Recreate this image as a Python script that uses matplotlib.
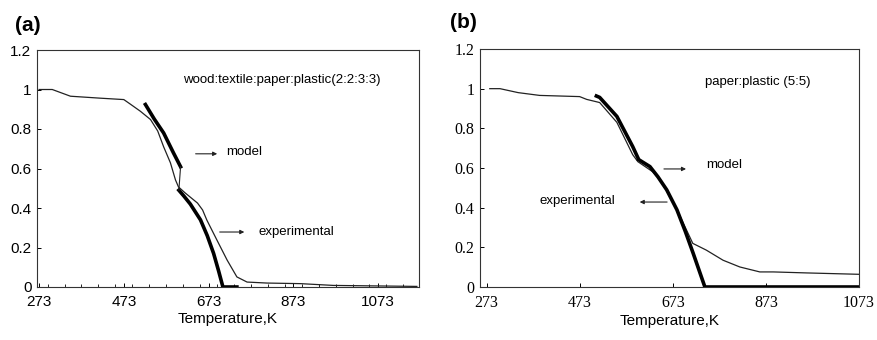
import matplotlib
matplotlib.use("Agg")
import matplotlib.pyplot as plt

plt.rcParams['font.family'] = ['Liberation Sans', 'DejaVu Sans']

# Panel (a): wood:textile:paper:plastic(2:2:3:3)
a_exp_T = [273, 304, 347, 418, 473, 489, 512, 536, 553, 567, 583, 595, 602, 618, 647, 659,
           669, 693, 717, 740, 764, 811, 890, 968, 1165]
a_exp_y = [1.0, 1.0, 0.966, 0.956, 0.949, 0.925, 0.89, 0.848, 0.79, 0.71, 0.629, 0.542, 0.507,
           0.476, 0.425, 0.39, 0.339, 0.237, 0.136, 0.051, 0.025, 0.02, 0.017, 0.008, 0.003]
a_mod1_T = [524, 545, 567, 590, 607]
a_mod1_y = [0.924, 0.85, 0.78, 0.68, 0.609]
a_mod2_T = [603, 615, 630, 654, 670, 685, 697, 707, 720, 740]
a_mod2_y = [0.49, 0.46, 0.42, 0.34, 0.26, 0.17, 0.08, 0.0, 0.0, 0.0]

# Panel (b): paper:plastic (5:5)
b_exp_T = [280, 302, 341, 387, 473, 488, 516, 553, 587, 598, 630, 645, 659, 681, 702, 716,
           745, 781, 817, 860, 889, 960, 1073]
b_exp_y = [1.0, 1.0, 0.98, 0.966, 0.96, 0.946, 0.93, 0.83, 0.667, 0.632, 0.581, 0.54, 0.49,
           0.395, 0.29, 0.22, 0.186, 0.135, 0.101, 0.076, 0.076, 0.071, 0.064]
b_mod1_T = [509, 516, 553, 587, 598]
b_mod1_y = [0.963, 0.956, 0.86, 0.708, 0.652]
b_mod2_T = [600, 624, 641, 660, 682, 700, 717, 742, 800, 900, 1000, 1073]
b_mod2_y = [0.642, 0.607, 0.556, 0.49, 0.389, 0.28, 0.169, 0.0, 0.0, 0.0, 0.0, 0.0]

xticks = [273, 473, 673, 873, 1073]
yticks = [0, 0.2, 0.4, 0.6, 0.8, 1.0, 1.2]
yticklabels = ['0', '0.2', '0.4', '0.6', '0.8', '1', '1.2']

fig = plt.figure(figsize=(8.78, 3.4), dpi=100)
axa = fig.add_axes([37/878, 53/340, 382/878, 237/340])
axb = fig.add_axes([480/878, 53/340, 379/878, 238/340])

for ax in (axa, axb):
    for s in ax.spines.values():
        s.set_linewidth(0.8)
        s.set_color('#333333')
    ax.set_ylim(0, 1.2)
    ax.set_xticks(xticks)
    ax.set_yticks(yticks)
    ax.tick_params(direction='in', length=3, width=0.7, pad=4)
    ax.tick_params(axis='x', pad=6)
    ax.set_xlabel('Temperature,K', fontsize=11, labelpad=2)

# (a)
axa.set_xlim(268, 1170)
axa.plot(a_exp_T, a_exp_y, color='#222222', lw=0.9)
axa.plot(a_mod1_T, a_mod1_y, color='black', lw=2.6)
axa.plot(a_mod2_T, a_mod2_y, color='black', lw=2.6)
axa.plot([a_mod1_T[-1], a_mod2_T[0]], [a_mod1_y[-1], a_mod2_y[0]], color='#222222', lw=0.8)
axa.set_yticklabels(yticklabels, fontsize=11)
axa.set_xticklabels([str(t) for t in xticks], fontsize=11)
axa.set_xticks(range(293, 1170, 40), minor=True)
axa.tick_params(axis='x', which='minor', direction='in', length=2, width=0.6)
axa.text(0.642, 0.873, 'wood:textile:paper:plastic(2:2:3:3)', transform=axa.transAxes,
         ha='center', va='center', fontsize=9.5)
axa.text(0.495, 0.57, 'model', transform=axa.transAxes, ha='left', va='center', fontsize=9.5)
axa.annotate('', xy=(0.479, 0.562), xytext=(0.408, 0.562), xycoords='axes fraction',
             arrowprops=dict(arrowstyle='-|>', color='#222222', lw=0.8, mutation_scale=6))
axa.text(0.581, 0.232, 'experimental', transform=axa.transAxes, ha='left', va='center', fontsize=9.5)
axa.annotate('', xy=(0.55, 0.232), xytext=(0.471, 0.232), xycoords='axes fraction',
             arrowprops=dict(arrowstyle='-|>', color='#222222', lw=0.8, mutation_scale=6))

# (b)
axb.set_xlim(259, 1073)
axb.plot(b_exp_T, b_exp_y, color='#222222', lw=0.9)
axb.plot(b_mod1_T, b_mod1_y, color='black', lw=2.6)
axb.plot(b_mod2_T, b_mod2_y, color='black', lw=2.6)
axb.set_yticklabels(yticklabels, fontsize=11.5, family=['Liberation Serif', 'DejaVu Serif'])
axb.set_xticklabels([str(t) for t in xticks], fontsize=11.5, family=['Liberation Serif', 'DejaVu Serif'])
axb.text(0.734, 0.861, 'paper:plastic (5:5)', transform=axb.transAxes,
         ha='center', va='center', fontsize=9.5)
axb.text(0.596, 0.513, 'model', transform=axb.transAxes, ha='left', va='center', fontsize=9.5)
axb.annotate('', xy=(0.551, 0.496), xytext=(0.478, 0.496), xycoords='axes fraction',
             arrowprops=dict(arrowstyle='-|>', color='#222222', lw=0.8, mutation_scale=6))
axb.text(0.158, 0.361, 'experimental', transform=axb.transAxes, ha='left', va='center', fontsize=9.5)
axb.annotate('', xy=(0.414, 0.357), xytext=(0.501, 0.357), xycoords='axes fraction',
             arrowprops=dict(arrowstyle='-|>', color='#222222', lw=0.8, mutation_scale=6))

fig.text(0.017, 0.926, '(a)', fontsize=15, fontweight='bold', ha='left', va='center')
fig.text(0.5125, 0.935, '(b)', fontsize=15, fontweight='bold', ha='left', va='center')

fig.savefig('out.png', dpi=100)
